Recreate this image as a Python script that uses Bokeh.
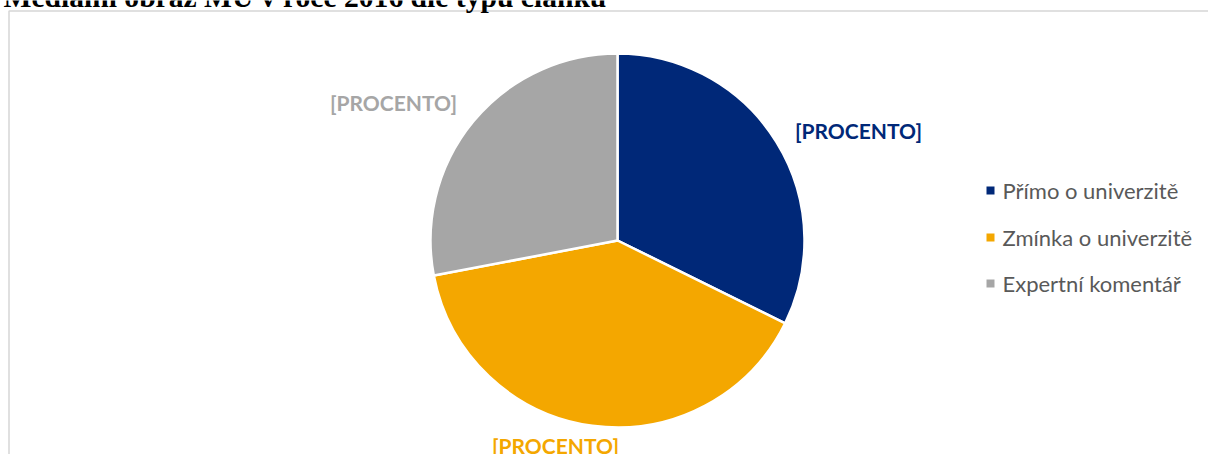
import numpy as np
from bokeh.plotting import figure
from bokeh.models import Range1d, ColumnDataSource
from bokeh.core.properties import value
from bokeh.embed import file_html
from bokeh.resources import INLINE

# ---- data ----
title_text = "Mediální obraz MU v roce 2016 dle typu článku"
categories = ["Přímo o univerzitě", "Zmínka o univerzitě", "Expertní komentář"]
shares = [32.3, 39.7, 28.0]
colors = ["#002878", "#F4A700", "#A6A6A6"]
data_labels = ["[PROCENTO]", "[PROCENTO]", "[PROCENTO]"]

W, H = 1208, 454
p = figure(width=W, height=H, output_backend="svg", toolbar_location=None,
           x_range=Range1d(0, W), y_range=Range1d(0, H),
           min_border=0, outline_line_color=None)
p.axis.visible = False
p.grid.visible = False
p.background_fill_color = "white"
p.border_fill_color = "white"

def py(y):  # page y -> data y
    return H - y

# frame border (top + left visible)
p.line(x=[8.5, 8.5, 1300], y=[py(600), py(10.5), py(10.5)], line_color="#D6D6D6", line_width=1.5)

# title (clipped at the top in the original)
p.text(x=[3], y=[py(-3.8)], text=[title_text], text_font=value("Liberation Serif"),
       text_font_style="bold", text_font_size="29.6px", text_color="#000000",
       text_baseline="alphabetic", text_align="left")

# pie
cx, cy, r = 617, py(240), 187
frac = np.array(shares) / sum(shares)
cum = np.concatenate([[0], np.cumsum(frac)])
start = np.pi / 2 - cum[1:] * 2 * np.pi
end = np.pi / 2 - cum[:-1] * 2 * np.pi
src = ColumnDataSource(dict(start=start, end=end, color=colors))
p.wedge(x=cx, y=cy, radius=r, start_angle="start", end_angle="end",
        fill_color="color", line_color="white", line_width=2.5, source=src)

# data labels (offsets from pie centre, in pixels)
lab_dx = [241, -62, -224]
lab_dy = [110, -205, 138]
lx = [cx + d for d in lab_dx]
ly = [cy + d for d in lab_dy]
p.text(x=lx, y=ly, text=data_labels, text_color=colors,
       text_font=value("Lato"), text_font_style="bold", text_font_size="21px",
       text_align="center", text_baseline="middle")

# legend
leg_y = [py(190), py(237), py(283)]
p.rect(x=[990] * 3, y=leg_y, width=8, height=8, width_units="screen",
       height_units="screen", fill_color=colors, line_color=None)
p.text(x=[1002] * 3, y=leg_y, text=categories, text_color="#595959",
       text_font=value("Lato"), text_font_size="22px",
       text_align="left", text_baseline="middle")

open("out.html", "w").write(file_html(p, INLINE))
